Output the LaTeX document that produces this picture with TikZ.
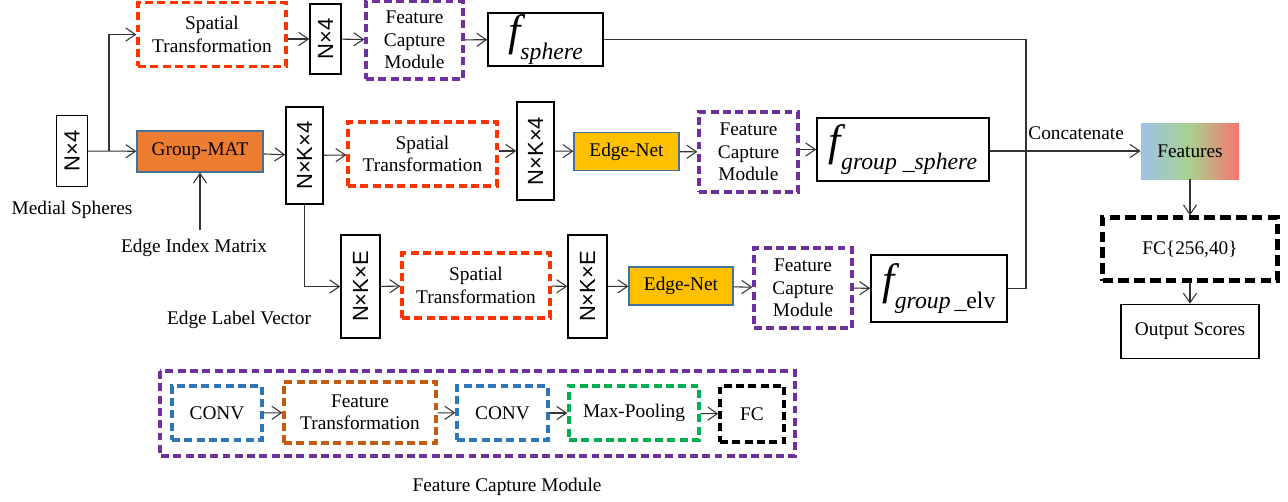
\documentclass[tikz,border=0pt]{standalone}
\usepackage{fontspec}
\setmainfont{Liberation Serif}
\setsansfont{Liberation Sans}
\usetikzlibrary{arrows.meta,positioning,shapes}
\definecolor{stred}{HTML}{FF3300}
\definecolor{fcmpurple}{HTML}{7030A0}
\definecolor{convblue}{HTML}{2E75B6}
\definecolor{ftorange}{HTML}{C55A11}
\definecolor{mpgreen}{HTML}{00B050}
\definecolor{matorange}{HTML}{ED7D31}
\definecolor{netyellow}{HTML}{FFC000}
\definecolor{edgeblue}{HTML}{41719C}
\definecolor{featblue}{HTML}{9DC3E6}
\definecolor{featgreen}{HTML}{A9D18E}
\definecolor{featred}{HTML}{F8746E}
\definecolor{wirecol}{HTML}{333333}
\tikzset{>={Straight Barb[length=5.5pt,width=7.5pt]},
  every node/.style={font=\fontsize{11}{12.8}\selectfont,align=center,inner sep=0pt},
  dashbox/.style={draw=#1,line width=1.9pt,dash pattern=on 4.5pt off 2.5pt},
  stbox/.style={dashbox=stred,minimum width=2.96cm,minimum height=1.27cm},
  fcmbox/.style={dashbox=fcmpurple,minimum width=1.96cm,minimum height=1.58cm},
  legbox/.style={dashbox=#1,minimum height=1.08cm},
  dimbox/.style={draw,line width=0.8pt,rotate=90,font=\sffamily\fontsize{12.5}{12.5}\selectfont,minimum height=0.76cm},
  netbox/.style={draw=edgeblue,line width=0.7pt,fill=#1},
  outbox/.style={draw,line width=0.9pt},
  wire/.style={draw=wirecol,line width=0.6pt}}
\newcommand{\fout}[1]{{\fontsize{25}{25}\selectfont\itshape f}\raisebox{-8pt}{\fontsize{13.5}{13.5}\selectfont #1}}

\begin{document}
\begin{tikzpicture}[x=0.02cm,y=-0.02cm]
\useasboundingbox (0,0) rectangle (1288,501);
% input
\node[dimbox,minimum width=1.42cm,minimum height=0.62cm] (in) at (72,151) {N×4};
\node (ms) at (72,210) {Medial Spheres};
\node[netbox=matorange,minimum width=2.52cm,minimum height=0.82cm] (gm) at (200,151.5) {Group-MAT};
\node (eim) at (194,248) {Edge Index Matrix};
\node (elv) at (239,320) {Edge Label Vector};
\coordinate (br) at (109,151);
% top row
\node[stbox] (sts) at (212,34.5) {Spatial\\Transformation};
\node[dimbox,minimum width=1.4cm,minimum height=0.62cm] (n4t) at (325.5,39) {N×4};
\node[fcmbox,minimum width=1.94cm,minimum height=1.56cm] (fcmt) at (414.5,40) {Feature\\Capture\\Module};
\node[outbox,minimum width=2.3cm,minimum height=1.06cm] (fs) at (545.5,39.5) {\fout{\itshape sphere}};
% middle row
\node[dimbox,minimum width=1.94cm,minimum height=0.74cm] (nka) at (304.5,155.5) {N×K×4};
\node[stbox,minimum width=2.98cm,minimum height=1.28cm] (stm) at (422.5,154) {Spatial\\Transformation};
\node[dimbox,minimum width=1.96cm,minimum height=0.74cm] (nkb) at (535.5,151) {N×K×4};
\node[netbox=netyellow,minimum width=2.1cm,minimum height=0.76cm] (enm) at (626.5,151.5) {Edge-Net};
\node[fcmbox,minimum width=1.98cm,minimum height=1.6cm] (fcmm) at (748.5,152) {Feature\\Capture\\Module};
\node[outbox,minimum width=3.44cm,minimum height=1.26cm] (fgs) at (903,149.5) {\fout{\itshape group \_sphere}};
% bottom row
\node[dimbox,minimum width=2.06cm,minimum height=0.78cm] (nkea) at (360.5,286.5) {N×K×E};
\node[stbox,minimum width=2.96cm,minimum height=1.3cm] (stb) at (476,285.5) {Spatial\\Transformation};
\node[dimbox,minimum width=2.06cm,minimum height=0.78cm] (nkeb) at (587.5,286.5) {N×K×E};
\node[netbox=netyellow,minimum width=2.08cm,minimum height=0.76cm] (enb) at (681,286) {Edge-Net};
\node[fcmbox,minimum width=1.96cm,minimum height=1.6cm] (fcmb) at (803,288) {Feature\\Capture\\Module};
\node[outbox,minimum width=2.72cm,minimum height=1.34cm] (fge) at (939,288.5) {\fout{{\itshape group}\,\_elv}};
% head
\node[minimum width=1.96cm,minimum height=1.12cm,left color=featblue,right color=featred,middle color=featgreen] (feat) at (1190,151) {Features};
\node[draw,line width=2.4pt,dash pattern=on 6pt off 3pt,minimum width=3.5cm,minimum height=1.26cm] (fc) at (1190,249) {FC\{256,40\}};
\node[outbox,minimum width=2.76cm,minimum height=1.08cm] (out) at (1190,331.5) {Output Scores};
\node[anchor=west] (cat) at (1028,133) {Concatenate};

\draw[wire,->] (in) -- (gm);
\draw[wire,->] (br) |- (sts);
\draw[wire,->] (sts.east |- n4t) -- (n4t);
\draw[wire,->] (n4t) -- (fcmt);
\draw[wire,->] (fcmt) -- (fs);
\draw[wire,->] ([yshift=5pt]eim.north -| gm) -- (gm);
\draw[wire,->] (gm) -- (nka);
\draw[wire,->] (nka) -- (stm);
\draw[wire,->] (stm.east |- nkb) -- (nkb);
\draw[wire,->] (nkb) -- (enm);
\draw[wire,->] (enm) -- (fcmm);
\draw[wire,->] (fcmm.east |- fgs) -- (fgs);
\draw[wire,->] (fgs.east |- feat) -- (feat);
\draw[wire,->] (nka) |- (nkea);
\draw[wire,->] (nkea) -- (stb);
\draw[wire,->] (stb) -- (nkeb);
\draw[wire,->] (nkeb) -- (enb);
\draw[wire,->] (enb) -- (fcmb);
\draw[wire,->] (fcmb) -- (fge);
\draw[wire] (fs.east) -| (1026,200) |- (fge.east);
\draw[wire,->] (feat) -- (fc);
\draw[wire,->] (fc) -- (out);

% legend
\draw[dashbox=fcmpurple] (160,371) rectangle (795,456);
\node[legbox=convblue,minimum width=1.8cm] (conv1) at (217,413) {CONV};
\node[legbox=ftorange,minimum width=3.04cm,minimum height=1.22cm] (ft) at (360,412.5) {Feature\\Transformation};
\node[legbox=convblue,minimum width=1.82cm] (conv2) at (502.5,413) {CONV};
\node[legbox=mpgreen,minimum width=2.6cm] (mp) at (634,413) {Max-Pooling};
\node[legbox=black,minimum width=1.28cm,minimum height=1.12cm] (fcl) at (752,414) {FC};
\draw[wire,->] (conv1) -- (ft);
\draw[wire,->] (ft) -- (conv2);
\draw[wire,->] (conv2) -- (mp);
\draw[wire,->] (mp) -- (fcl);
\node (cap) at (507,487) {Feature Capture Module};
\end{tikzpicture}
\end{document}
